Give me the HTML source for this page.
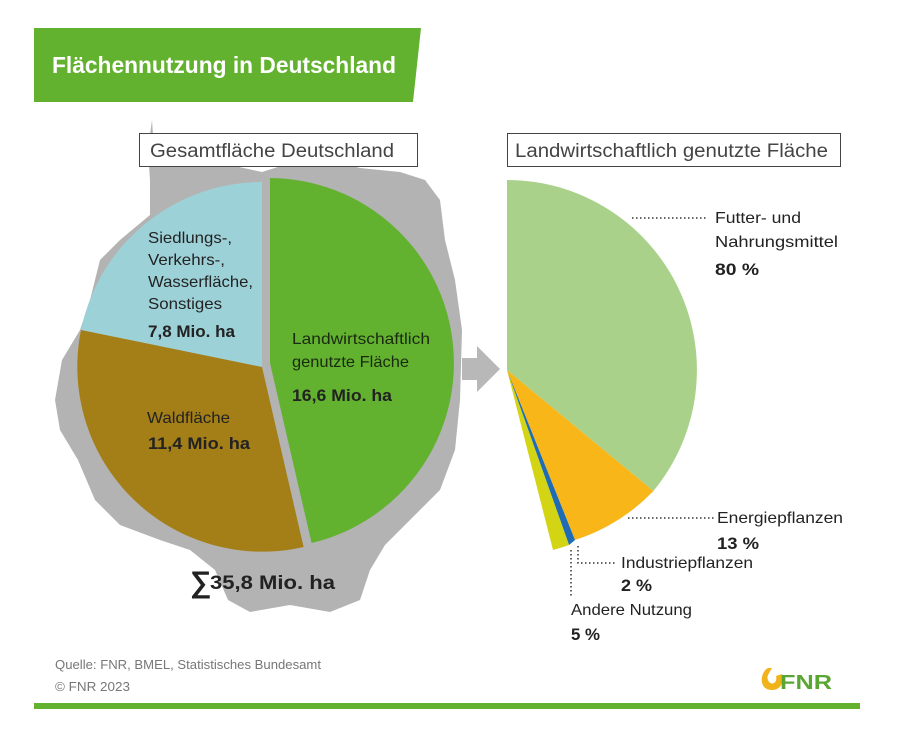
<!DOCTYPE html>
<html><head><meta charset="utf-8"><style>
html,body{margin:0;padding:0;background:#fff;}
svg{display:block;font-family:"Liberation Sans Narrow","Liberation Sans",sans-serif;}
</style></head><body>
<svg width="914" height="746" viewBox="0 0 914 746" xmlns="http://www.w3.org/2000/svg">
<rect width="914" height="746" fill="#fff"/>
<polygon points="34,28 421,28 413,102 34,102" fill="#63b22f"/>
<text x="52" y="73" font-size="23" font-weight="bold" fill="#fff" textLength="344" lengthAdjust="spacingAndGlyphs">Flächennutzung in Deutschland</text>

<!-- map silhouette -->
<polygon fill="#b3b3b3" points="152,120 154,150 175,150 200,155 230,165 262,172 300,160 330,160 360,168 400,172 425,180 440,200 445,240 455,280 462,330 460,400 455,450 440,490 410,520 385,545 370,570 360,600 330,612 290,605 250,612 228,600 215,570 190,550 160,540 120,525 95,500 78,460 60,430 55,400 62,360 80,330 90,300 100,260 120,240 150,215 150,180 148,150"/>

<!-- left pie -->
<path d="M262,367 L81,330 A185,185 0 0 1 262,182 Z" fill="#9dd1d8"/>
<path d="M262,367 L303.6,547 A185,185 0 0 1 81,330 Z" fill="#a47e17"/>
<path d="M270,363 L270,178 A185,185 0 0 1 311.6,543 Z" fill="#62b22f"/>

<rect x="139.5" y="133.5" width="278" height="33" fill="#fff" stroke="#444" stroke-width="1"/>
<text x="150" y="157" font-size="19" fill="#444" textLength="244" lengthAdjust="spacingAndGlyphs">Gesamtfläche Deutschland</text>
<rect x="507.5" y="133.5" width="333" height="33" fill="#fff" stroke="#444" stroke-width="1"/>
<text x="515" y="157" font-size="19" fill="#444" textLength="313" lengthAdjust="spacingAndGlyphs">Landwirtschaftlich genutzte Fläche</text>

<g font-size="16" fill="#222" lengthAdjust="spacingAndGlyphs">
<text x="148" y="243" textLength="84" lengthAdjust="spacingAndGlyphs">Siedlungs-,</text>
<text x="148" y="265" textLength="77" lengthAdjust="spacingAndGlyphs">Verkehrs-,</text>
<text x="148" y="287" textLength="105" lengthAdjust="spacingAndGlyphs">Wasserfläche,</text>
<text x="148" y="309" textLength="74" lengthAdjust="spacingAndGlyphs">Sonstiges</text>
<text x="148" y="337" font-weight="bold" font-size="17" textLength="87" lengthAdjust="spacingAndGlyphs">7,8 Mio. ha</text>
<text x="292" y="344" fill="#1a2a10" textLength="138" lengthAdjust="spacingAndGlyphs">Landwirtschaftlich</text>
<text x="292" y="367" fill="#1a2a10" textLength="117" lengthAdjust="spacingAndGlyphs">genutzte Fläche</text>
<text x="292" y="401" font-weight="bold" font-size="17" textLength="100" lengthAdjust="spacingAndGlyphs">16,6 Mio. ha</text>
<text x="147" y="423" textLength="83" lengthAdjust="spacingAndGlyphs">Waldfläche</text>
<text x="148" y="449" font-weight="bold" font-size="17" textLength="102" lengthAdjust="spacingAndGlyphs">11,4 Mio. ha</text>
<text x="190" y="592" font-weight="bold" font-size="30">∑</text>
<text x="210" y="589" font-weight="bold" font-size="19" textLength="125" lengthAdjust="spacingAndGlyphs">35,8 Mio. ha</text>
</g>

<!-- arrow -->
<rect x="462" y="358" width="16" height="22" fill="#b8b8b8"/>
<polygon points="477,346 500,369 477,392" fill="#b8b8b8"/>

<!-- right pie -->
<path d="M507,370 L507,180 A190,190 0 0 1 653.4,491 Z" fill="#a9d18a"/>
<path d="M507,370 L653.4,491 A190,190 0 0 1 575,540 Z" fill="#f8b619"/>
<path d="M507,370 L575,540 A185,185 0 0 1 569,545 Z" fill="#1f6cb5"/>
<path d="M507,370 L569,545 A186,186 0 0 1 553,550 Z" fill="#d2d414"/>

<g stroke="#333" stroke-width="1.5" stroke-dasharray="1.5,2.5" fill="none">
<line x1="632" y1="218" x2="707" y2="218"/>
<line x1="628" y1="518" x2="715" y2="518"/>
<polyline points="578,546 578,563 615,563"/>
<line x1="571" y1="550" x2="571" y2="597"/>
</g>
<g font-size="16" fill="#222">
<text x="715" y="223" textLength="86" lengthAdjust="spacingAndGlyphs">Futter- und</text>
<text x="715" y="247" textLength="123" lengthAdjust="spacingAndGlyphs">Nahrungsmittel</text>
<text x="715" y="275" font-weight="bold" font-size="17" textLength="44" lengthAdjust="spacingAndGlyphs">80 %</text>
<text x="717" y="523" textLength="126" lengthAdjust="spacingAndGlyphs">Energiepflanzen</text>
<text x="717" y="549" font-weight="bold" font-size="17" textLength="42" lengthAdjust="spacingAndGlyphs">13 %</text>
<text x="621" y="568" textLength="132" lengthAdjust="spacingAndGlyphs">Industriepflanzen</text>
<text x="621" y="591" font-weight="bold" font-size="17" textLength="31" lengthAdjust="spacingAndGlyphs">2 %</text>
<text x="571" y="615" textLength="121" lengthAdjust="spacingAndGlyphs">Andere Nutzung</text>
<text x="571" y="640" font-weight="bold" font-size="17" textLength="29" lengthAdjust="spacingAndGlyphs">5 %</text>
</g>

<text x="55" y="669" font-size="13" fill="#777" textLength="266" lengthAdjust="spacingAndGlyphs">Quelle: FNR, BMEL, Statistisches Bundesamt</text>
<text x="55" y="691" font-size="13" fill="#777" textLength="75" lengthAdjust="spacingAndGlyphs">© FNR 2023</text>
<path d="M768,668 C760,672 758,690 772,690 C782,690 784,680 782,674 L776,676 C778,684 770,686 768,680 C766,676 770,672 772,668 Z" fill="#f1b31c"/>
<text x="780" y="689" font-size="20" font-weight="bold" fill="#5aa632" textLength="52" lengthAdjust="spacingAndGlyphs">FNR</text>
<rect x="34" y="703" width="826" height="6" fill="#63b22f"/>
</svg>
</body></html>
